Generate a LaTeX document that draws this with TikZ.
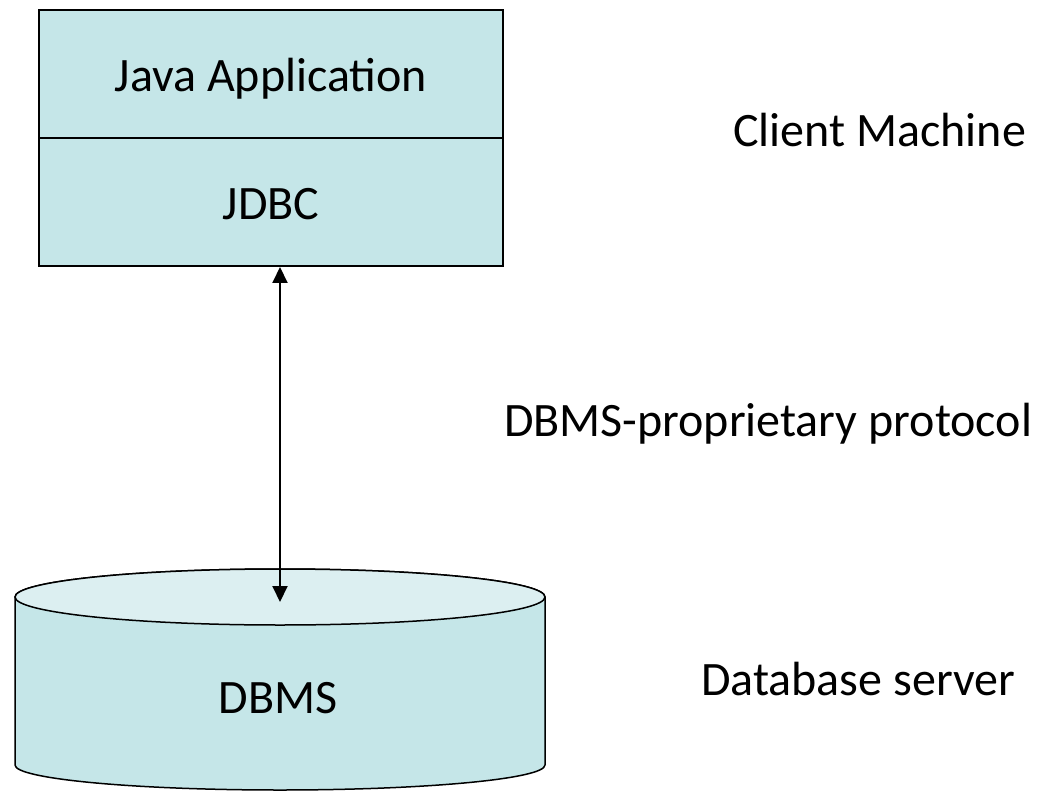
\documentclass[tikz,border=0pt]{standalone}
\usepackage{fontspec}
\setmainfont{Carlito}
\usetikzlibrary{arrows.meta}
\definecolor{boxfill}{RGB}{197,230,232}
\definecolor{topfill}{RGB}{220,239,241}
\begin{document}
\begin{tikzpicture}[x=1pt,y=-1pt,
  bigtext/.style={font=\fontsize{48}{56}\selectfont},
  layer/.style={draw=black, line width=2pt, fill=boxfill, minimum width=464pt, minimum height=128pt, inner sep=0pt, text height=36pt, text depth=0pt, bigtext},
  lbl/.style={anchor=base west, inner sep=0pt, bigtext},
  cyl/.style={draw=black, line width=1.5pt},
  conn/.style={line width=2pt, {Triangle[length=16pt,width=15pt]}-{Triangle[length=16pt,width=15pt]}}]
\useasboundingbox (0,0) rectangle (1051,791);
\fill[white] (0,0) rectangle (1051,791);
% client stack
\node[layer] (app) at (271,74) {Java Application};
\node[layer] (jdbc) at (271,202) {JDBC};
% database cylinder
\draw[cyl, fill=boxfill] (15,597) -- (15,765) arc[start angle=180, end angle=0, x radius=265, y radius=25] -- (545,597) arc[start angle=0, end angle=-180, x radius=265, y radius=28] -- cycle;
\draw[cyl, fill=topfill] (280,597) ellipse[x radius=265, y radius=28];
\node[bigtext, anchor=base, inner sep=0pt] (dbms) at (278,713) {DBMS};
\coordinate (dbtop) at (280,602);
% connector
\draw[conn] (dbtop |- jdbc.south) -- (dbtop);
% labels
\node[lbl] (client) at (733,147) {Client Machine};
\node[lbl] (proto) at (504,436) {DBMS-proprietary protocol};
\node[lbl] (server) at (701,695) {Database server};
\end{tikzpicture}
\end{document}
